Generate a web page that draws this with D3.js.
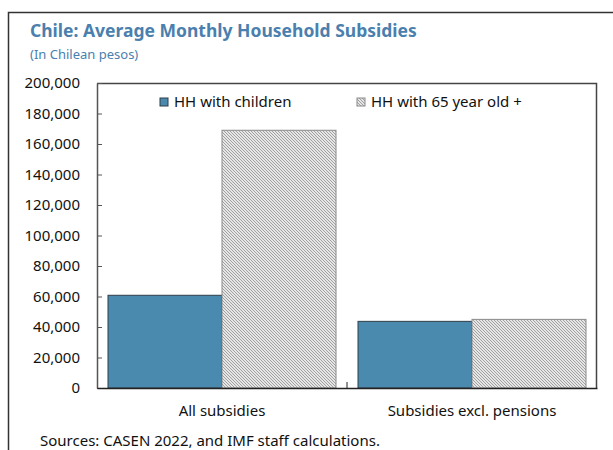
<!DOCTYPE html>
<html><head><meta charset="utf-8">
<script src="https://cdn.jsdelivr.net/npm/d3@7"></script>
<style>body{margin:0;background:#fff}svg{display:block}text{font-family:"Noto Sans","Open Sans",sans-serif}</style>
</head><body><svg id="c" width="613" height="450"></svg>
<script>
const categories = ["All subsidies", "Subsidies excl. pensions"];
const seriesNames = ["HH with children", "HH with 65 year old +"];
const hhChildren = [60800, 43700];
const hh65 = [169000, 45000];
const yTicks = [0, 20000, 40000, 60000, 80000, 100000, 120000, 140000, 160000, 180000, 200000];

const svg = d3.select("#c");
const m = {l: 97, r: 597, t: 83, b: 388};
const defs = svg.append("defs");
const pat = defs.append("pattern").attr("id","hatch").attr("patternUnits","userSpaceOnUse").attr("width",3).attr("height",3);
pat.append("rect").attr("width",3).attr("height",3).attr("fill","#e6e6e6");
pat.append("path").attr("d","M0,0L3,3M-1,2L1,4M2,-1L4,1").attr("stroke","#999").attr("stroke-width",0.9);

// outer frame
svg.append("path").attr("d","M8.5,450V12.5H613").attr("fill","none").attr("stroke","#333").attr("stroke-width",1.5);

svg.append("text").attr("x",30).attr("y",37).attr("font-size",17.5).attr("font-weight","bold").attr("fill","#4a7fae").text("Chile: Average Monthly Household Subsidies");
svg.append("text").attr("x",30).attr("y",59).attr("font-size",13).attr("fill","#4a7fae").text("(In Chilean pesos)");

const x0 = d3.scaleBand().domain(categories).range([m.l, m.r]).paddingInner(0.088).paddingOuter(0.044);
const x1 = d3.scaleBand().domain(seriesNames).range([0, x0.bandwidth()]);
const y = d3.scaleLinear().domain([0, 200000]).range([m.b, m.t]);

const data = categories.map((c,i)=>({c, vals:[hhChildren[i], hh65[i]]}));
const g = svg.append("g");
data.forEach(d=>{
  d.vals.forEach((v,j)=>{
    g.append("rect").attr("x", x0(d.c)+x1(seriesNames[j])).attr("y", y(v))
      .attr("width", x1.bandwidth()).attr("height", y(0)-y(v))
      .attr("fill", j===0 ? "#4a8aae" : "url(#hatch)")
      .attr("stroke", j===0 ? "#2f3e48" : "#8a8a8a").attr("stroke-width",1);
  });
});

// plot border
svg.append("path").attr("d",`M${m.l},${m.t+0.5}H${m.r-0.5}V${m.b}`).attr("fill","none").attr("stroke","#444").attr("stroke-width",1.5);

const ya = svg.append("g").attr("transform",`translate(${m.l},0)`)
  .call(d3.axisLeft(y).tickValues(yTicks).tickFormat(d3.format(",")).tickSizeInner(-5).tickSizeOuter(0).tickPadding(17));
ya.select(".domain").attr("stroke","#555").attr("stroke-width",1.5);
ya.selectAll(".tick line").attr("stroke","#555");
ya.selectAll("text").attr("font-size",15).attr("fill","#111").attr("font-family","Noto Sans");

const xa = svg.append("g").attr("transform",`translate(0,${m.b})`)
  .call(d3.axisBottom(x0).tickSize(0).tickPadding(17));
xa.select(".domain").attr("stroke","#222").attr("stroke-width",1.5);
xa.selectAll("text").attr("font-size",15).attr("fill","#111").attr("font-family","Noto Sans");
// category separator tick
const sepX = (x0(categories[0]) + x0.bandwidth() + x0(categories[1])) / 2;
svg.append("line").attr("x1", sepX).attr("x2", sepX)
  .attr("y1", m.b).attr("y2", m.b-6).attr("stroke","#222").attr("stroke-width",1);

// legend
const leg = svg.append("g");
const legX = [160, 357];
seriesNames.forEach((s,j)=>{
  leg.append("rect").attr("x",legX[j]).attr("y",98).attr("width",8).attr("height",8)
    .attr("fill", j===0 ? "#4a8aae" : "url(#hatch)").attr("stroke", j===0 ? "#2f3e48" : "#8a8a8a");
  leg.append("text").attr("x",legX[j]+14).attr("y",107).attr("font-size",15).attr("fill","#111").text(s);
});

svg.append("text").attr("x",40).attr("y",446).attr("font-size",15).attr("fill","#111").text("Sources: CASEN 2022, and IMF staff calculations.");
</script></body></html>
